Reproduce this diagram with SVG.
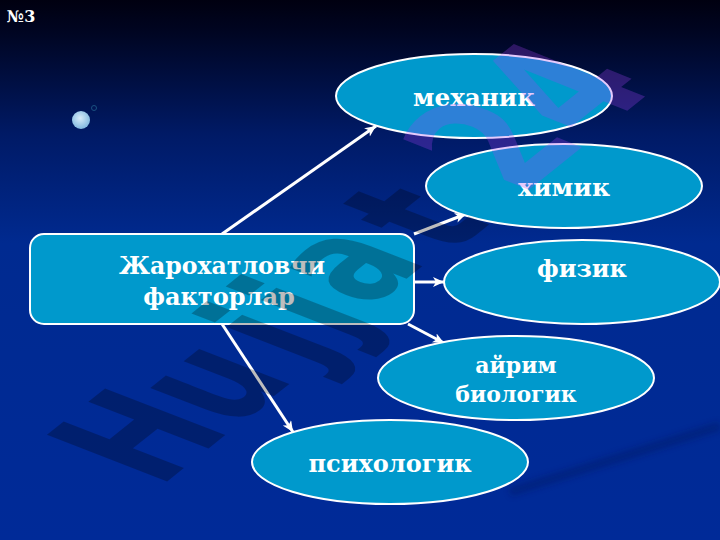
<svg xmlns="http://www.w3.org/2000/svg" width="720" height="540" viewBox="0 0 720 540">
<style>
.n{fill:#0099cc;stroke:#fff;stroke-width:2}
.t{font-family:"DejaVu Serif","Liberation Serif",serif;font-weight:bold;font-size:24px;fill:#fff;text-anchor:middle}
.c{fill:none;stroke:#fff;stroke-width:3}
.w{font-family:"DejaVu Sans",sans-serif;font-weight:bold;font-size:100px}
</style>
<defs>
<linearGradient id="bg" x1="0" y1="0" x2="0" y2="1"><stop offset="0" stop-color="#000010"/><stop offset=".06" stop-color="#000522"/><stop offset=".25" stop-color="#001a66"/><stop offset=".45" stop-color="#002a90"/><stop offset="1" stop-color="#002a98"/></linearGradient>
<radialGradient id="ball" cx=".45" cy=".4" r=".6"><stop offset="0" stop-color="#d8ecf8"/><stop offset="1" stop-color="#80b8e0"/></radialGradient>
<filter id="soft" x="-20%" y="-50%" width="140%" height="200%"><feGaussianBlur stdDeviation="3"/></filter>
<marker id="a" markerUnits="userSpaceOnUse" markerWidth="12" markerHeight="12" refX="11" refY="5" orient="auto"><path d="M0 0L11 5L0 10L3 5Z" fill="#fff"/></marker>
</defs>
<rect width="720" height="540" fill="url(#bg)"/>
<g id="decor"><circle cx="81" cy="120" r="9" fill="url(#ball)"/><circle cx="94" cy="108" r="2.5" fill="none" stroke="#1a5080" stroke-width="1"/></g>
<path d="M510 492L720 426" fill="none" stroke="#00185f" stroke-width="9" opacity=".4" filter="url(#soft)"/>
<g id="connectors">
<path class="c" d="M222 234L376 126" marker-end="url(#a)"/>
<path class="c" d="M414 234L466 214" marker-end="url(#a)"/>
<path class="c" d="M414 282L444 282" marker-end="url(#a)"/>
<path class="c" d="M408 324L444 343" marker-end="url(#a)"/>
<path class="c" d="M222 324L293 432" marker-end="url(#a)"/>
</g>
<g id="n0"><rect class="n" x="30" y="234" width="384" height="90" rx="14"/><text class="t" x="222" y="274" textLength="206" lengthAdjust="spacingAndGlyphs">Жарохатловчи</text><text class="t" x="219" y="305">факторлар</text></g>
<g id="n1"><ellipse class="n" cx="474" cy="96" rx="138" ry="42"/><text class="t" x="474" y="106" textLength="122" lengthAdjust="spacingAndGlyphs">механик</text></g>
<g id="n2"><ellipse class="n" cx="564" cy="186" rx="138" ry="42"/><text class="t" x="564" y="196" textLength="92" lengthAdjust="spacingAndGlyphs">химик</text></g>
<g id="n3"><ellipse class="n" cx="582" cy="282" rx="138" ry="42"/><text class="t" x="582" y="277">физик</text></g>
<g id="n4"><ellipse class="n" cx="516" cy="378" rx="138" ry="42"/><text class="t" x="516" y="373" style="font-size:22px">айрим</text><text class="t" x="516" y="402" style="font-size:22px">биологик</text></g>
<g id="n5"><ellipse class="n" cx="390" cy="462" rx="138" ry="42"/><text class="t" x="390" y="472">психологик</text></g>
<text class="t" x="21" y="22" style="font-size:16px">№3</text>
<text class="w" transform="matrix(.89 -.71 1.65 .64 159 488)" fill="#000" fill-opacity=".26" dx="0 0 14 4 6 12" dy="0 0 0 0 -6 6">Hujjat</text>
<text class="w" transform="matrix(1 -.8 1.8 .72 521 196)" fill="#a040f6" fill-opacity=".28">24</text>
</svg>
